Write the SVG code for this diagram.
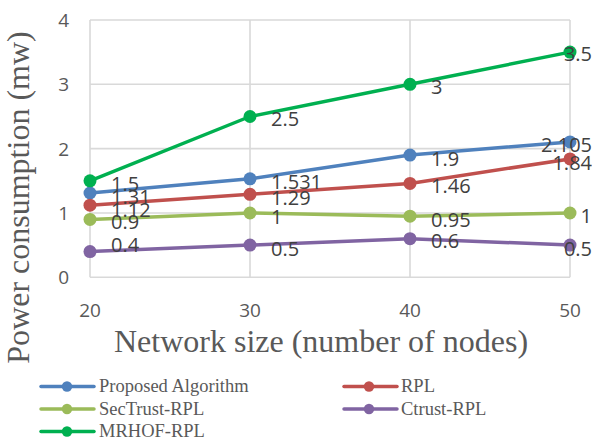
<svg xmlns="http://www.w3.org/2000/svg" width="592" height="441" viewBox="0 0 592 441">
<style>
.grid{stroke:#D9D9D9;stroke-width:1.6;fill:none}
.tick{font-family:"Open Sans","DejaVu Sans",sans-serif;font-size:19px;fill:#595959}
.lab{font-family:"Open Sans","DejaVu Sans",sans-serif;font-size:20px;fill:#404040}
.title{font-family:"Liberation Serif","Times New Roman",serif;font-size:32px;fill:#595959}
.leg{font-family:"Liberation Serif","Times New Roman",serif;font-size:18.5px;fill:#595959}
.s{fill:none;stroke-width:3.5;stroke-linejoin:round;stroke-linecap:round}
.blue{stroke:#4F81BD}.blueF{fill:#4F81BD}
.red{stroke:#C0504D}.redF{fill:#C0504D}
.lg{stroke:#9BBB59}.lgF{fill:#9BBB59}
.pu{stroke:#8064A2}.puF{fill:#8064A2}
.gr{stroke:#00B050}.grF{fill:#00B050}
</style>
<rect width="592" height="441" fill="#FFFFFF"/>
<g id="grid">
<path class="grid" d="M90 20H570M90 84.3H570M90 148.6H570M90 213H570M90 277.3H570M90 20V277.3M250 20V277.3M410 20V277.3M570 20V277.3"/>
</g>
<g id="axis-labels">
<text class="tick" x="69" y="27" text-anchor="end">4</text>
<text class="tick" x="69" y="91.3" text-anchor="end">3</text>
<text class="tick" x="69" y="155.6" text-anchor="end">2</text>
<text class="tick" x="69" y="220" text-anchor="end">1</text>
<text class="tick" x="69" y="284.3" text-anchor="end">0</text>
<text class="tick" x="90" y="317" text-anchor="middle">20</text>
<text class="tick" x="250" y="317" text-anchor="middle">30</text>
<text class="tick" x="410" y="317" text-anchor="middle">40</text>
<text class="tick" x="570" y="317" text-anchor="middle">50</text>
<text class="title" x="321" y="352" text-anchor="middle">Network size (number of nodes)</text>
<text class="title" transform="translate(29,197.5) rotate(-90)" text-anchor="middle">Power consumption (mw)</text>
</g>
<g id="series-proposed">
<polyline class="s blue" points="90,193 250,178.8 410,155.1 570,141.9"/>
<g class="blueF"><circle cx="90" cy="193" r="6.5"/><circle cx="250" cy="178.8" r="6.5"/><circle cx="410" cy="155.1" r="6.5"/><circle cx="570" cy="141.9" r="6.5"/></g>
</g>
<g id="series-rpl">
<polyline class="s red" points="90,205.2 250,194.3 410,183.4 570,158.9"/>
<g class="redF"><circle cx="90" cy="205.2" r="6.5"/><circle cx="250" cy="194.3" r="6.5"/><circle cx="410" cy="183.4" r="6.5"/><circle cx="570" cy="158.9" r="6.5"/></g>
</g>
<g id="series-sectrust">
<polyline class="s lg" points="90,219.4 250,213 410,216.2 570,213"/>
<g class="lgF"><circle cx="90" cy="219.4" r="6.5"/><circle cx="250" cy="213" r="6.5"/><circle cx="410" cy="216.2" r="6.5"/><circle cx="570" cy="213" r="6.5"/></g>
</g>
<g id="series-ctrust">
<polyline class="s pu" points="90,251.6 250,245.1 410,238.7 570,245.1"/>
<g class="puF"><circle cx="90" cy="251.6" r="6.5"/><circle cx="250" cy="245.1" r="6.5"/><circle cx="410" cy="238.7" r="6.5"/><circle cx="570" cy="245.1" r="6.5"/></g>
</g>
<g id="series-mrhof">
<polyline class="s gr" points="90,180.8 250,116.5 410,84.3 570,52.1"/>
<g class="grF"><circle cx="90" cy="180.8" r="6.5"/><circle cx="250" cy="116.5" r="6.5"/><circle cx="410" cy="84.3" r="6.5"/><circle cx="570" cy="52.1" r="6.5"/></g>
</g>
<g id="data-labels">
<text class="lab" x="111" y="190.5">1.5</text>
<text class="lab" x="111" y="203.5">1.31</text>
<text class="lab" x="111" y="216.5">1.12</text>
<text class="lab" x="111" y="229">0.9</text>
<text class="lab" x="111" y="251.5">0.4</text>
<text class="lab" x="271" y="125.8">2.5</text>
<text class="lab" x="271" y="189.2">1.531</text>
<text class="lab" x="271" y="204.5">1.29</text>
<text class="lab" x="271" y="224.2">1</text>
<text class="lab" x="271" y="255.5">0.5</text>
<text class="lab" x="431" y="93.5">3</text>
<text class="lab" x="431" y="165.8">1.9</text>
<text class="lab" x="431" y="192.5">1.46</text>
<text class="lab" x="431" y="226.5">0.95</text>
<text class="lab" x="431" y="248.2">0.6</text>
<text class="lab" x="592" y="60.5" text-anchor="end">3.5</text>
<text class="lab" x="592" y="151.5" text-anchor="end">2.105</text>
<text class="lab" x="592" y="169.5" text-anchor="end">1.84</text>
<text class="lab" x="592" y="222.5" text-anchor="end">1</text>
<text class="lab" x="592" y="255.5" text-anchor="end">0.5</text>
</g>
<g id="legend">
<g id="leg-proposed"><line class="s blue" x1="41" y1="386.5" x2="94" y2="386.5"/><circle class="blueF" cx="67" cy="386.5" r="5.2"/><text class="leg" x="99" y="392">Proposed Algorithm</text></g>
<g id="leg-rpl"><line class="s red" x1="344" y1="386.5" x2="397" y2="386.5"/><circle class="redF" cx="369" cy="386.5" r="5.2"/><text class="leg" x="401" y="392">RPL</text></g>
<g id="leg-sectrust"><line class="s lg" x1="41" y1="409" x2="94" y2="409"/><circle class="lgF" cx="67" cy="409" r="5.2"/><text class="leg" x="99" y="414.5">SecTrust-RPL</text></g>
<g id="leg-ctrust"><line class="s pu" x1="344" y1="409" x2="397" y2="409"/><circle class="puF" cx="369" cy="409" r="5.2"/><text class="leg" x="401" y="414.5">Ctrust-RPL</text></g>
<g id="leg-mrhof"><line class="s gr" x1="41" y1="431.5" x2="94" y2="431.5"/><circle class="grF" cx="67" cy="431.5" r="5.2"/><text class="leg" x="99" y="437">MRHOF-RPL</text></g>
</g>
</svg>
